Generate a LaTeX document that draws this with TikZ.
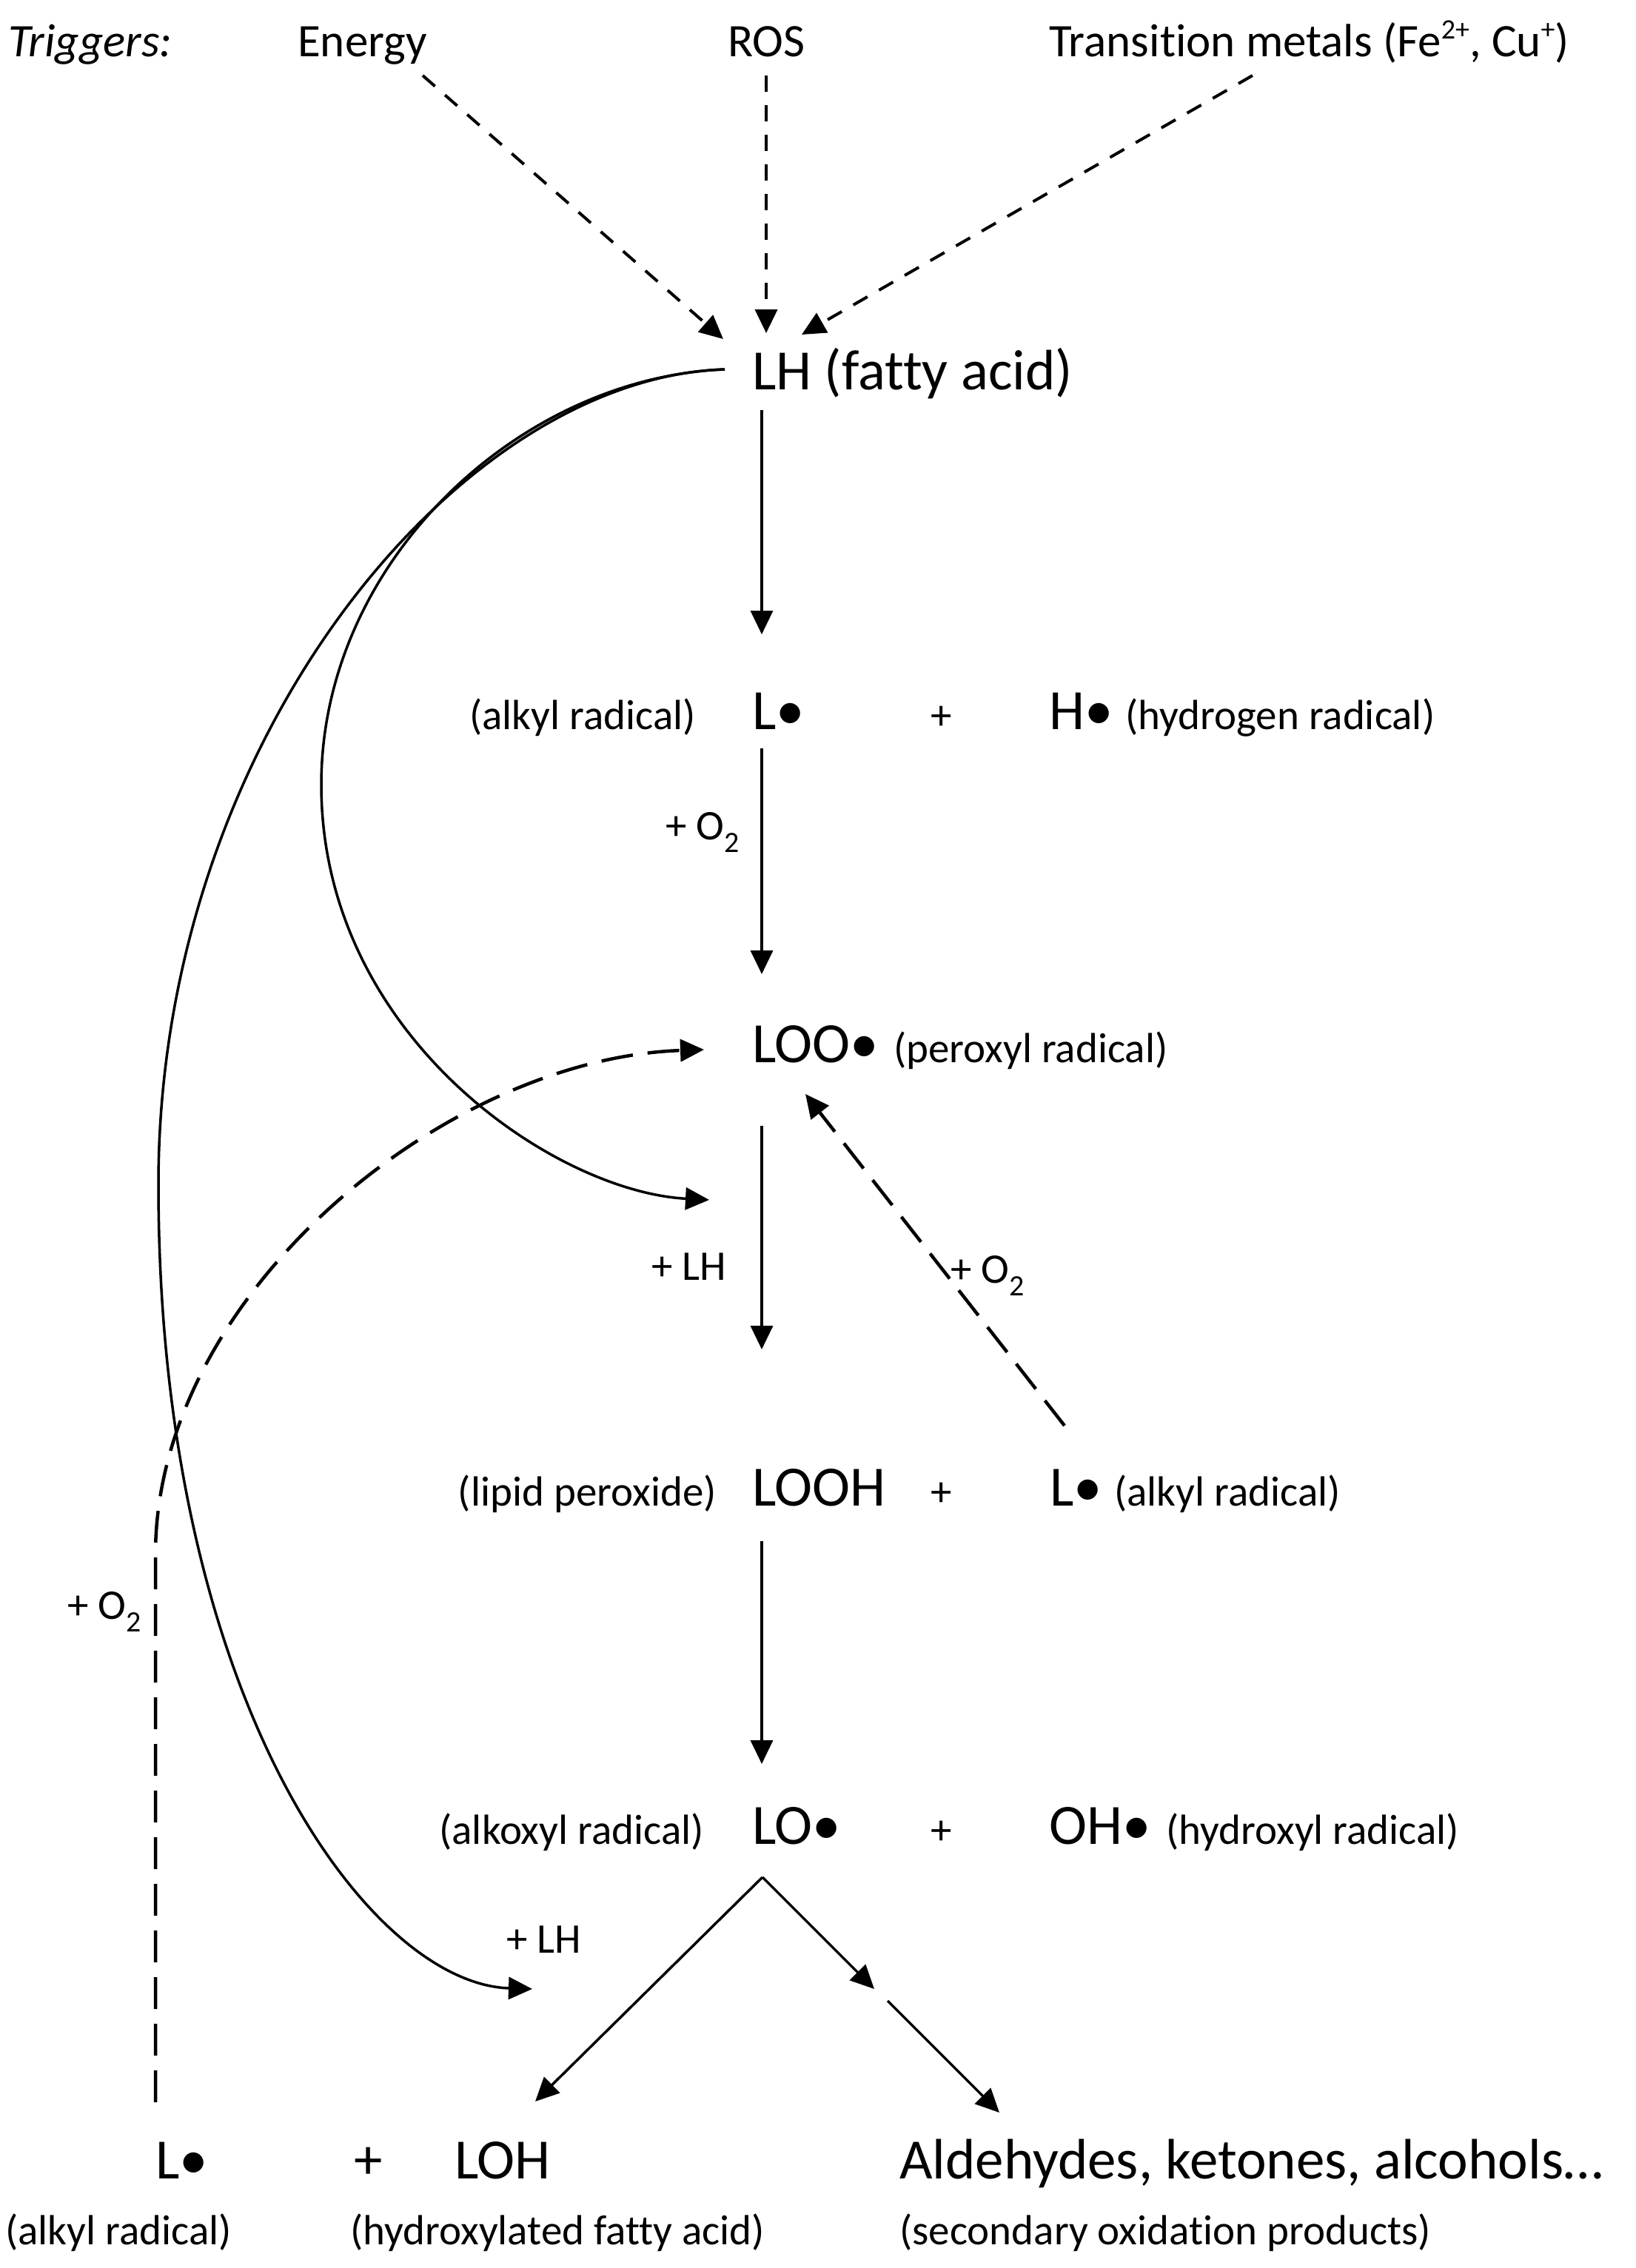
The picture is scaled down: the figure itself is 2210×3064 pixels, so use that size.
\documentclass[tikz,border=0pt]{standalone}
\usepackage{fontspec}
\setmainfont{Carlito}[Ligatures=NoCommon]
\usetikzlibrary{arrows.meta}
\newcommand{\mysup}[1]{{\fontsize{38}{40}\selectfont\raisebox{24pt}{#1}}}
\begin{document}
\begin{tikzpicture}[x=1pt,y=-1pt,
  sp/.style={font=\fontsize{77}{90}\selectfont, inner sep=0pt, anchor=base west},
  lab/.style={font=\fontsize{57}{66}\selectfont, inner sep=0pt, anchor=base west},
  trig/.style={font=\fontsize{63}{72}\selectfont, inner sep=0pt, anchor=base west},
  arr/.style={line width=3.5pt, -{Triangle[length=32pt,width=30pt]}},
  curv/.style={line width=3.5pt, -{Triangle[length=32pt,width=30pt]}},
  ldash/.style={line width=4.5pt, dash pattern=on 43pt off 20pt, -{Triangle[length=32pt,width=30pt]}},
  sdash/.style={line width=4pt, dash pattern=on 22pt off 18pt, -{Triangle[length=32pt,width=30pt]}},
]
\useasboundingbox[fill=white] (0,0) rectangle (2210,3064);

% triggers
\node[trig] (trg) at (11,77) {\itshape Triggers:};
\node[trig] (energy) at (402,77) {Energy};
\node[trig] (ros) at (983,77) {ROS};
\node[trig] (tm) at (1417,77) {Transition metals (Fe\mysup{2+}, Cu\mysup{+})};

% species
\node[sp] (LH) at (1016,526) {LH (fatty acid)};
\node[lab,anchor=base east] (l1) at (940,985) {(alkyl radical)};
\node[sp] (L1) at (1016,985) {L•};
\node[lab,anchor=base] (p1) at (1272,985) {+};
\node[sp] (H) at (1417,985) {H•};
\node[lab] (h1) at (1520,985) {(hydrogen radical)};

\node[sp] (LOO) at (1016,1435) {LOO•};
\node[lab] (loo1) at (1207,1435) {(peroxyl radical)};

\node[lab,anchor=base east] (lp) at (968,2034) {(lipid peroxide)};
\node[sp] (LOOH) at (1016,2034) {LOOH};
\node[lab,anchor=base] (p2) at (1272,2034) {+};
\node[sp] (L2) at (1418,2034) {L•};
\node[lab] (l2) at (1505,2034) {(alkyl radical)};

\node[lab,anchor=base east] (lo1) at (951,2491) {(alkoxyl radical)};
\node[sp] (LO) at (1016,2491) {LO•};
\node[lab,anchor=base] (p3) at (1272,2491) {+};
\node[sp] (OH) at (1417,2491) {OH•};
\node[lab] (oh1) at (1575,2491) {(hydroxyl radical)};

\node[sp] (L3) at (210,2943) {L•};
\node[sp,anchor=base] (p4) at (498,2943) {+};
\node[sp] (LOH) at (614,2943) {LOH};
\node[sp] (ald) at (1215,2943) {Aldehydes, ketones, alcohols…};
\node[lab] (l3) at (7,3032) {(alkyl radical)};
\node[lab] (loh1) at (473,3032) {(hydroxylated fatty acid)};
\node[lab] (ald1) at (1215,3032) {(secondary oxidation products)};

% reaction labels
\node[lab] (o2a) at (899,1134) {+ O\textsubscript{2}};
\node[lab] (lha) at (880,1729) {+ LH};
\node[lab] (o2b) at (1284,1733) {+ O\textsubscript{2}};
\node[lab] (o2c) at (91,2187) {+ O\textsubscript{2}};
\node[lab] (lhb) at (684,2638) {+ LH};

% connector end points
\coordinate (eS) at (571,102);  \coordinate (eT) at (977,458);
\coordinate (rS) at (1035,102); \coordinate (rT) at (1035,450);
\coordinate (tS) at (1692,102); \coordinate (tT) at (1083,452);
\coordinate (a1s) at (1029,554);  \coordinate (a1e) at (1029,857);
\coordinate (a2s) at (1029,1011); \coordinate (a2e) at (1029,1316);
\coordinate (a3s) at (1029,1521); \coordinate (a3e) at (1029,1823);
\coordinate (a4s) at (1029,2082); \coordinate (a4e) at (1029,2383);
\coordinate (apex) at (1030,2536);
\coordinate (lohT) at (723,2839);
\coordinate (midA) at (1181,2687);
\coordinate (midB) at (1199,2703);
\coordinate (aldT) at (1350,2854);
\coordinate (lhc) at (979,499);
\coordinate (c1T) at (958,1621);
\coordinate (c2T) at (719,2687);
\coordinate (rdS) at (1438,1926); \coordinate (rdT) at (1088,1478);
\coordinate (ldS) at (210,2840); \coordinate (ldT) at (951,1418);

% trigger arrows
\draw[sdash] (eS) -- (eT);
\draw[sdash] (rS) -- (rT);
\draw[sdash] (tS) -- (tT);

% main vertical chain
\draw[arr] (a1s) -- (a1e);
\draw[arr] (a2s) -- (a2e);
\draw[arr] (a3s) -- (a3e);
\draw[arr] (a4s) -- (a4e);

% LO branches
\draw[arr] (apex) -- (lohT);
\draw[arr] (apex) -- (midA);
\draw[arr] (midB) -- (aldT);

% curves from LH
\draw[curv] (lhc) .. controls (700,510) and (434,760) .. (434,1060)
                  .. controls (434,1400) and (750,1610) .. (c1T);
\draw[curv] (lhc) .. controls (620,510) and (214,1000) .. (214,1600)
                  .. controls (214,2300) and (500,2680) .. (c2T);

% dashed O2 arrows
\draw[ldash] (rdS) -- (rdT);
\draw[ldash] (ldS) -- (210,2100) .. controls (210,1750) and (600,1430) .. (ldT);
\end{tikzpicture}
\end{document}
